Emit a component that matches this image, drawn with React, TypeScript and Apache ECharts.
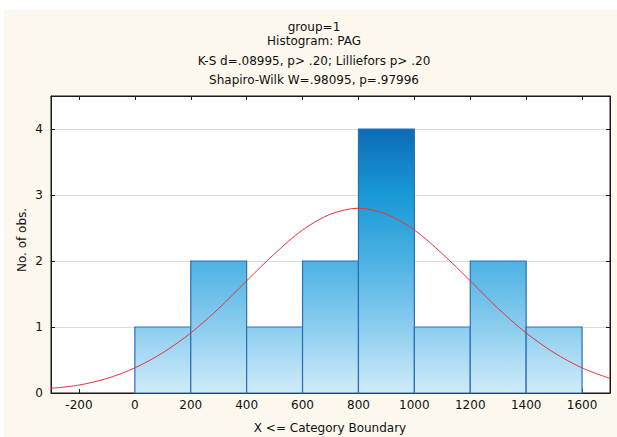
import React, { useEffect, useRef } from "react";
import * as echarts from "echarts";

// Histogram bins (X <= Category Boundary)
const binLow = [0, 200, 400, 600, 800, 1000, 1200, 1400];
const binHigh = [200, 400, 600, 800, 1000, 1200, 1400, 1600];
const counts = [1, 2, 1, 2, 4, 1, 2, 1];

// Expected normal curve
const curveX = [-300, -200, -100, 0, 100, 200, 300, 400, 500, 600, 700, 800, 900, 1000, 1100, 1200, 1300, 1400, 1500, 1600, 1700];
const curveY = [0.07, 0.12, 0.22, 0.38, 0.61, 0.91, 1.28, 1.7, 2.11, 2.47, 2.71, 2.8, 2.71, 2.47, 2.11, 1.7, 1.28, 0.91, 0.61, 0.38, 0.22];

const xTicks = [-200, 0, 200, 400, 600, 800, 1000, 1200, 1400, 1600];
const yTicks = [0, 1, 2, 3, 4];

const titleLines = [
  "group=1",
  "Histogram: PAG",
  "K-S d=.08995, p> .20; Lilliefors p> .20",
  "Shapiro-Wilk W=.98095, p=.97996",
];
const xName = "X <= Category Boundary";
const yName = "No. of obs.";

const FONT = "DejaVu Sans";

export default function App() {
  const ref = useRef<HTMLDivElement>(null);
  useEffect(() => {
    if (!ref.current) return;
    const chart = echarts.init(ref.current, undefined, { renderer: "svg" });
    const titleY = [27, 41, 61, 80];
    const barData = binLow.map((b, i) => [b, binHigh[i], counts[i]]);
    const txt = (text: string, x: number, y: number, extra: any = {}) => ({
      type: "text",
      x,
      y,
      ...extra,
      style: {
        text,
        fontSize: 12,
        fontFamily: FONT,
        fill: "#111",
        align: "center",
        verticalAlign: "middle",
        textAlign: "center",
        textVerticalAlign: "middle",
      },
    });
    const axisLine = { show: true, onZero: false, lineStyle: { color: "#1a1a1a" } };
    const fmt = (v: number) => String(v);
    const option: any = {
      animation: false,
      backgroundColor: "transparent",
      textStyle: { fontFamily: FONT },
      grid: {
        left: 51,
        right: 7,
        top: 96,
        bottom: 44,
        show: true,
        backgroundColor: "#ffffff",
        borderColor: "#1a1a1a",
        borderWidth: 1,
        outerBoundsMode: "none",
        containLabel: false,
      },
      graphic: [
        {
          type: "rect",
          z: -100,
          silent: true,
          shape: { x: 4, y: 10, width: 613, height: 427 },
          style: { fill: "#fcf8ed" },
        },
        ...titleLines.map((t, i) => txt(t, 314, titleY[i])),
        txt(xName, 330, 428),
        txt(yName, 22, 240, { rotation: Math.PI / 2 }),
      ],
      xAxis: [
        {
          type: "value",
          min: -300,
          max: 1700,
          position: "bottom",
          axisLine,
          axisTick: { show: true, inside: true, length: 4, customValues: xTicks, lineStyle: { color: "#1a1a1a" } },
          axisLabel: { customValues: xTicks, formatter: fmt, fontSize: 12, fontFamily: FONT, color: "#111", margin: 6 },
          splitLine: { show: false },
        },
        {
          type: "value",
          min: -300,
          max: 1700,
          position: "top",
          axisLine,
          axisTick: { show: true, inside: true, length: 4, customValues: xTicks, lineStyle: { color: "#1a1a1a" } },
          axisLabel: { show: false },
          splitLine: { show: false },
        },
      ],
      yAxis: [
        {
          type: "value",
          min: 0,
          max: 4.5,
          interval: 1,
          position: "left",
          axisLine,
          axisTick: { show: true, inside: true, length: 4, customValues: yTicks, lineStyle: { color: "#1a1a1a" } },
          axisLabel: { customValues: yTicks, formatter: fmt, fontSize: 12, fontFamily: FONT, color: "#111", margin: 8 },
          splitLine: { show: true, lineStyle: { color: "#dcdcdc", width: 1 } },
        },
        {
          type: "value",
          min: 0,
          max: 4.5,
          interval: 1,
          position: "right",
          axisLine,
          axisTick: { show: true, inside: true, length: 4, customValues: yTicks, lineStyle: { color: "#1a1a1a" } },
          axisLabel: { show: false },
          splitLine: { show: false },
        },
      ],
      series: [
        {
          type: "custom",
          xAxisIndex: 0,
          yAxisIndex: 0,
          data: barData,
          z: 2,
          renderItem: (params: any, api: any) => {
            const x0 = api.value(0);
            const x1 = api.value(1);
            const c = api.value(2);
            const p0 = api.coord([x0, c]);
            const p1 = api.coord([x1, 0]);
            const top = api.coord([0, 4])[1];
            const bot = api.coord([0, 0])[1];
            return {
              type: "rect",
              shape: { x: p0[0], y: p0[1], width: p1[0] - p0[0], height: p1[1] - p0[1] },
              style: {
                fill: {
                  type: "linear",
                  x: 0,
                  y: top,
                  x2: 0,
                  y2: bot,
                  global: true,
                  colorStops: [
                    { offset: 0, color: "#0c6cb7" },
                    { offset: 0.25, color: "#1899d6" },
                    { offset: 0.5, color: "#4cb2e3" },
                    { offset: 0.75, color: "#8bcdef" },
                    { offset: 1, color: "#d0ebf9" },
                  ],
                },
                stroke: "#2c6fb5",
                lineWidth: 1.2,
              },
            };
          },
        },
        {
          type: "line",
          xAxisIndex: 0,
          yAxisIndex: 0,
          data: curveX.map((x, i) => [x, curveY[i]]),
          smooth: 0.3,
          showSymbol: false,
          symbol: "none",
          z: 3,
          lineStyle: { color: "#e8323a", width: 1 },
        },
      ],
    };
    chart.setOption(option);
    return () => chart.dispose();
  }, []);
  return (
    <div
      ref={ref}
      style={{ position: "absolute", left: 0, top: 0, width: 617, height: 437 }}
    />
  );
}
